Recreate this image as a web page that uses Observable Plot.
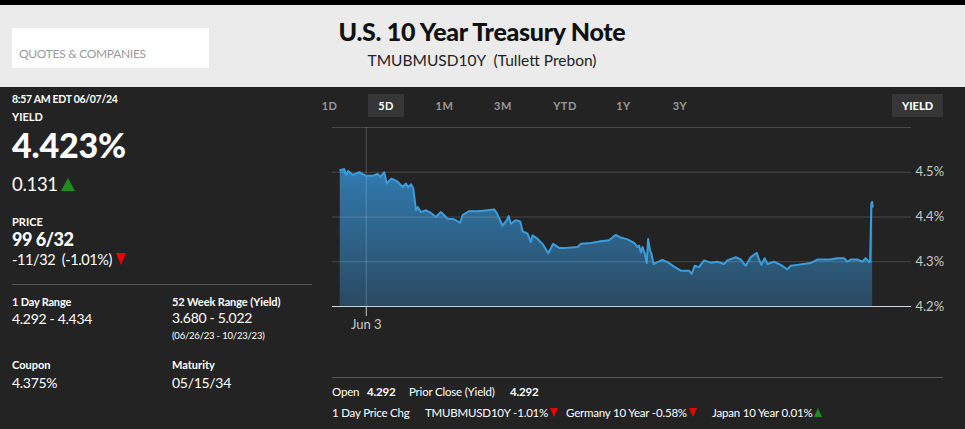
<!DOCTYPE html>
<html><head><meta charset="utf-8">
<script src="https://cdn.jsdelivr.net/npm/d3@7"></script>
<script src="https://cdn.jsdelivr.net/npm/@observablehq/plot@0.6"></script>
<style>
html,body{margin:0;padding:0;}
body{width:965px;height:429px;background:#232323;position:relative;overflow:hidden;font-family:Lato,"Open Sans",sans-serif;color:#fff;}
.t{position:absolute;white-space:pre;line-height:1;}
#topbar{position:absolute;left:0;top:0;width:965px;height:5px;background:#000;}
#head{position:absolute;left:0;top:5px;width:965px;height:82px;background:#ebebeb;}
#qbox{position:absolute;left:12px;top:23px;width:197px;height:40px;background:#fff;}
.btn{position:absolute;top:94px;height:23px;}
#chart{position:absolute;left:320px;top:110px;}
.sep{position:absolute;height:1px;background:#555;}
.tri{display:inline-block;width:0;height:0;border-left:5px solid transparent;border-right:5px solid transparent;margin-left:2px;}
</style></head>
<body>
<div id="topbar"></div>
<div id="head"><div id="qbox"></div></div>
<div class="sep" style="left:12px;top:284px;width:300px;"></div>
<div class="sep" style="left:332px;top:377px;width:611px;"></div>
<div id="chart"></div>
<script>
// ---- data ----
const hours = [-5.39,-4.56,-4.20,-3.73,-2.82,-1.45,-0.06,1.33,2.36,2.90,3.73,4.23,5.26,6.50,7.54,8.22,8.70,9.26,9.73,10.09,10.29,10.65,11.33,12.37,13.40,14.44,15.47,16.86,18.23,19.47,19.97,21.33,23.07,25.15,26.51,27.07,28.25,29.14,29.49,29.97,31.01,31.90,32.39,33.43,34.11,34.47,35.50,36.54,37.70,38.73,39.97,41.36,43.79,44.47,46.54,48.61,50.33,51.72,52.75,54.14,55.51,56.21,56.54,56.90,57.25,57.72,58.14,58.41,58.82,59.11,59.53,60.36,61.39,62.43,63.79,65.18,66.90,67.46,68.08,68.97,70.01,71.40,72.78,74.15,74.85,76.58,77.61,78.65,79.68,80.93,81.40,81.90,82.58,83.14,84.51,85.89,87.28,87.96,89.35,92.11,93.50,96.25,97.64,99.01,99.71,100.39,101.78,102.82,103.50,104.18,104.43,104.68,104.85,104.95];
const yields = [4.505,4.507,4.494,4.503,4.494,4.500,4.492,4.492,4.496,4.490,4.500,4.475,4.486,4.479,4.467,4.475,4.466,4.473,4.464,4.434,4.415,4.422,4.411,4.415,4.409,4.400,4.411,4.396,4.395,4.387,4.404,4.413,4.413,4.415,4.417,4.408,4.381,4.393,4.402,4.385,4.393,4.390,4.368,4.363,4.344,4.359,4.351,4.340,4.319,4.340,4.331,4.331,4.333,4.340,4.342,4.346,4.348,4.360,4.354,4.350,4.342,4.333,4.336,4.321,4.333,4.318,4.297,4.351,4.325,4.318,4.295,4.299,4.304,4.299,4.289,4.280,4.280,4.273,4.291,4.288,4.303,4.298,4.300,4.295,4.303,4.310,4.305,4.291,4.310,4.320,4.305,4.293,4.308,4.295,4.300,4.293,4.283,4.291,4.293,4.297,4.305,4.305,4.308,4.308,4.300,4.305,4.305,4.300,4.308,4.299,4.300,4.430,4.434,4.423];
const baseDate = "2024-06-03T00:00Z";
const xDomain = ["2024-06-02T17:00Z", "2024-06-07T17:00Z"];
const xTicks = ["2024-06-03T00:00Z"];
const yLabelTicks = [4.2, 4.3, 4.4, 4.5];
const yGridTicks = [4.3, 4.4, 4.5, 4.6];
const yDomain = [4.2, 4.6];
const rangeButtons = ["1D", "5D", "1M", "3M", "YTD", "1Y", "3Y"];
const activeButton = "5D";

// ---- helpers ----
function txt(s, x, baseline, size, opts = {}) {
  const lh = opts.lh || 1;
  const el = document.createElement("div");
  el.className = "t";
  el.innerHTML = s;
  el.style.left = x + "px";
  el.style.lineHeight = lh;
  el.style.top = (baseline - (lh / 2 + 0.387) * size) + "px";
  el.style.fontSize = size + "px";
  if (opts.w) el.style.fontWeight = opts.w;
  el.style.color = opts.c || "#fff";
  if (opts.ls) el.style.letterSpacing = opts.ls;
  if (opts.center) { el.style.transform = "translateX(-50%)"; }
  document.body.appendChild(el);
  return el;
}
const up = '<span class="tri" style="border-left-width:7px;border-right-width:7px;border-bottom:13px solid #1e8c1e;margin-left:3px"></span>';
const down = '<span class="tri" style="border-left-width:5px;border-right-width:5px;border-top:12px solid #e00;margin-left:4px"></span>';
const upS = '<span class="tri" style="border-left-width:4px;border-right-width:4px;border-bottom:9px solid #1e8c1e;"></span>';
const downS = '<span class="tri" style="border-left-width:4px;border-right-width:4px;border-top:9px solid #e00;"></span>';

// header
txt("QUOTES &amp; COMPANIES", 19, 59, 12, {c: "#9a9a9a", ls: "-0.3px"});
txt("U.S. 10 Year Treasury Note", 482, 41, 25, {w: 900, c: "#111", center: true, ls: "-0.3px"});
txt("TMUBMUSD10Y&nbsp;&nbsp;(Tullett Prebon)", 482, 67, 15.5, {c: "#222", center: true});

// left panel
txt("8:57 AM EDT 06/07/24", 12, 104, 10.5, {w: 700, ls: "-0.3px", lh: 0.9});
txt("YIELD", 12, 121, 11, {w: 700, lh: 0.85});
txt("4.423%", 12, 158, 34, {w: 900, ls: "-0.2px", lh: 0.78});
txt("0.131" + up, 12, 191, 18.5, {ls: "-0.3px", lh: 0.9});
txt("PRICE", 12, 226, 11, {w: 700, lh: 0.85});
txt("99 6/32", 12, 246.5, 18, {w: 900, ls: "-0.5px", lh: 0.85});
txt("-11/32&nbsp;&nbsp;(-1.01%)" + down, 12, 265, 14.5, {ls: "-0.4px", lh: 0.9});
txt("1 Day Range", 12, 305.7, 11, {w: 700, ls: "-0.2px"});
txt("4.292 - 4.434", 12, 324, 14, {ls: "-0.3px"});
txt("52 Week Range (Yield)", 172, 305.7, 11, {w: 700, ls: "-0.1px"});
txt("3.680 - 5.022", 172, 324, 14, {ls: "-0.3px", lh: 0.9});
txt("(06/26/23 - 10/23/23)", 172, 340, 9.5, {ls: "-0.2px", lh: 0.9});
txt("Coupon", 12, 369, 11, {w: 700});
txt("4.375%", 12, 388, 14, {ls: "-0.3px"});
txt("Maturity", 172, 369, 11, {w: 700});
txt("05/15/34", 172, 388, 14, {ls: "-0.3px"});

// range buttons
const btnX = [329.5, 386, 444.5, 503, 565, 623.5, 680];
rangeButtons.forEach((b, i) => {
  if (b === activeButton) {
    const box = document.createElement("div");
    box.className = "btn"; box.style.left = "368px"; box.style.width = "36px"; box.style.background = "#363636";
    document.body.appendChild(box);
  }
  txt(b, btnX[i], 110, 11, {w: 700, c: b === activeButton ? "#fff" : "#9a9a9a", ls: "0.5px", center: true});
});
{
  const box = document.createElement("div");
  box.className = "btn"; box.style.left = "892px"; box.style.width = "51px"; box.style.background = "#363636";
  document.body.appendChild(box);
  txt("YIELD", 917.5, 110, 11, {w: 900, center: true});
}

// bottom rows
const bs = 11.5, bls = "-0.2px";
txt("Open", 332, 396.7, bs, {ls: bls});
txt("4.292", 367, 396.7, bs, {w: 700, ls: bls});
txt("Prior Close (Yield)", 409, 396.7, bs, {ls: bls});
txt("4.292", 510, 396.7, bs, {w: 700, ls: bls});
txt("1 Day Price Chg", 332, 417.7, bs, {ls: bls});
txt("TMUBMUSD10Y -1.01%" + downS, 425, 417.7, bs, {ls: bls});
txt("Germany 10 Year -0.58%" + downS, 566, 417.7, bs, {ls: bls});
txt("Japan 10 Year 0.01%" + upS, 712, 417.7, bs, {ls: bls});

// ---- chart ----
const base = new Date(baseDate).getTime();
const data = hours.map((h, i) => ({t: new Date(base + h * 3600e3), v: yields[i]}));
const gradDefs = () => {
  const defs = d3.create("svg:defs");
  const g = defs.append("linearGradient").attr("id", "yieldGrad").attr("x1", 0).attr("x2", 0).attr("y1", 0).attr("y2", 1);
  g.append("stop").attr("offset", "0%").attr("stop-color", "#317bb0");
  g.append("stop").attr("offset", "100%").attr("stop-color", "#2a4a62");
  return defs.node();
};
const chart = Plot.plot({
  width: 640, height: 225,
  marginLeft: 12, marginRight: 49, marginTop: 17, marginBottom: 29,
  style: {background: "transparent", color: "#c8c8c8", fontFamily: "Lato, sans-serif", fontSize: "13px"},
  x: {type: "utc", domain: xDomain.map(d => new Date(d)), ticks: xTicks.map(d => new Date(d)), tickFormat: d3.utcFormat("%b %-d"), tickSize: 10, tickPadding: 3, label: null},
  y: {domain: yDomain, axis: "right", ticks: yLabelTicks, tickSize: 0, tickPadding: 4, tickFormat: d => d.toFixed(1) + "%", label: null},
  marks: [
    gradDefs,
    Plot.areaY(data, {x: "t", y1: yDomain[0], y2: "v", fill: "url(#yieldGrad)"}),
    Plot.ruleY(yGridTicks, {stroke: "#fff", strokeOpacity: 0.17}),
    Plot.ruleX(xTicks.map(d => new Date(d)), {y1: yDomain[0], y2: yDomain[1], stroke: "#fff", strokeOpacity: 0.2}),
    Plot.lineY(data, {x: "t", y: "v", stroke: "#3a9ddc", strokeWidth: 2}),
    Plot.ruleY([yDomain[0]], {stroke: "#cfd5dc"})
  ]
});
document.getElementById("chart").appendChild(chart);
</script>
</body></html>
